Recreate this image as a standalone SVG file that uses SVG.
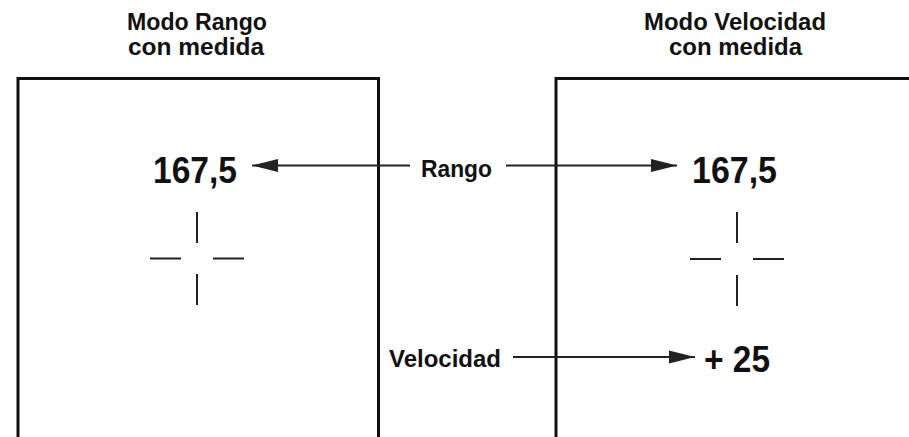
<svg xmlns="http://www.w3.org/2000/svg" width="909" height="437" viewBox="0 0 909 437">
<style>
text{font-family:"Liberation Sans",Arial,sans-serif;font-weight:bold;fill:#111}
.title{font-size:23px}
.lbl{font-size:23px}
.val{font-size:36px}
.box{fill:none;stroke:#111;stroke-width:3}
.cross{stroke:#222;stroke-width:2;fill:none}
.conn{stroke:#222;stroke-width:1.8;fill:none}
</style>
<defs>
<marker id="ah" markerUnits="userSpaceOnUse" markerWidth="28" markerHeight="14" refX="26" refY="7" orient="auto">
<path d="M0,0.5 L26,7 L0,13.5 Z" fill="#222"/>
</marker>
</defs>
<rect width="909" height="437" fill="#fff"/>
<g id="panel-rango">
<path class="box" d="M18,437 V78.5 H378.5 V437"/>
<text class="title" x="197" y="30" text-anchor="middle" textLength="140" lengthAdjust="spacingAndGlyphs">Modo Rango</text>
<text class="title" x="196" y="55" text-anchor="middle" textLength="136" lengthAdjust="spacingAndGlyphs">con medida</text>
<text class="val" x="153" y="183" textLength="84" lengthAdjust="spacingAndGlyphs">167,5</text>
<g class="cross">
<line x1="197" y1="212" x2="197" y2="243"/>
<line x1="197" y1="274" x2="197" y2="305"/>
<line x1="150" y1="258.5" x2="181" y2="258.5"/>
<line x1="213" y1="258.5" x2="244" y2="258.5"/>
</g>
</g>
<g id="panel-velocidad">
<path class="box" d="M556,437 V78.5 H909"/>
<text class="title" x="735" y="30" text-anchor="middle" textLength="182" lengthAdjust="spacingAndGlyphs">Modo Velocidad</text>
<text class="title" x="735.5" y="55" text-anchor="middle" textLength="133" lengthAdjust="spacingAndGlyphs">con medida</text>
<text class="val" x="692" y="183" textLength="85" lengthAdjust="spacingAndGlyphs">167,5</text>
<text class="val" x="704" y="372" textLength="66" lengthAdjust="spacingAndGlyphs">+ 25</text>
<g class="cross">
<line x1="737" y1="212" x2="737" y2="243"/>
<line x1="737" y1="275" x2="737" y2="306"/>
<line x1="690" y1="259" x2="721" y2="259"/>
<line x1="753" y1="259" x2="784" y2="259"/>
</g>
</g>
<g id="label-rango">
<text class="lbl" x="421" y="177" textLength="71" lengthAdjust="spacingAndGlyphs">Rango</text>
</g>
<g id="label-velocidad">
<text class="lbl" x="389" y="367" textLength="112" lengthAdjust="spacingAndGlyphs">Velocidad</text>
</g>
<g id="connectors">
<line class="conn" x1="410" y1="165.5" x2="252" y2="165.5" marker-end="url(#ah)"/>
<line class="conn" x1="506" y1="165.5" x2="677" y2="165.5" marker-end="url(#ah)"/>
<line class="conn" x1="513" y1="357" x2="695" y2="357" marker-end="url(#ah)"/>
</g>
</svg>
